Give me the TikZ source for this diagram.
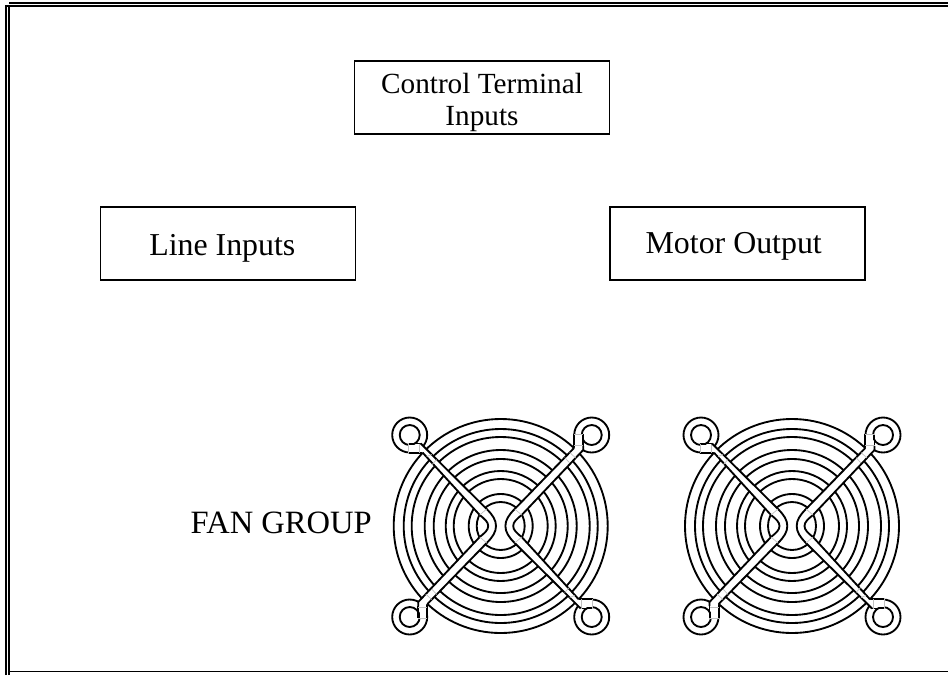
\documentclass[tikz,border=0pt]{standalone}
\usepackage{fontspec}
\setmainfont{Liberation Serif}
\usepackage{tikz}
\usetikzlibrary{positioning}
\newcommand{\dropby}[2]{\raisebox{-#1}[\height][\depth]{#2}}
\begin{document}
\begin{tikzpicture}[
    x=0.02646cm,
    y=-0.02646cm,
    termbox/.style={draw, line width=1.1pt, minimum width=6.75cm, minimum height=1.93cm, align=center},
    plainlabel/.style={font=\fontsize{24.5}{28}\selectfont},
    frameline/.style={line width=1.2pt},
    grille/.style={line width=1.4pt},
    fantick/.style={line width=0.5pt, gray!50},
    fangrille/.pic={
        % rings of the guard
        \foreach \r in {107,97,89,76,67,55,47,32,24}
            \draw[grille] (0,0) circle[radius=\r];
        % mounting lugs
        \foreach \a in {0,90,180,270} {
            \begin{scope}[rotate=\a]
                \draw[grille, fill=white] (-91,-91) circle[radius=17.5];
                \draw[grille] (-91,-91) circle[radius=10];
                \fill[white] (-92,-81) rectangle (-78,-74);
                \draw[grille] (-92,-82.5) -- (-80,-82.5);
                \draw[grille] (-92,-73.3) -- (-78,-73.3);
                \draw[fantick] (-92,-82.5) -- (-92,-73.3);
                \draw[fantick] (-81,-82.5) -- (-81,-73.3);
            \end{scope}
        }
        % arms
        \foreach \a in {0,180} {
            \begin{scope}[rotate=\a]
                \fill[white] (-80,-82.5) -- (-14,-17)
                    .. controls (-8,-11) and (-4.7,-6) .. (-4.7,0)
                    .. controls (-4.7,6) and (-8,11) .. (-14,17)
                    -- (-73.3,78) -- (-82.5,80) -- (-82.5,76) -- (-21,11)
                    .. controls (-16,7) and (-12.5,4) .. (-12.5,0)
                    .. controls (-12.5,-4) and (-16,-7) .. (-21,-11)
                    -- (-78,-73.3) -- cycle;
                \draw[grille] (-80,-82.5) -- (-14,-17)
                    .. controls (-8,-11) and (-4.7,-6) .. (-4.7,0)
                    .. controls (-4.7,6) and (-8,11) .. (-14,17)
                    -- (-73.3,78);
                \draw[grille] (-82.5,80) -- (-82.5,76) -- (-21,11)
                    .. controls (-16,7) and (-12.5,4) .. (-12.5,0)
                    .. controls (-12.5,-4) and (-16,-7) .. (-21,-11)
                    -- (-78,-73.3);
                \draw[fantick] (-14,-17) -- (-21,-11);
                \draw[fantick] (-14,17) -- (-21,11);
                \draw[fantick] (-69,-71.5) -- (-74,-69.5);
                \draw[fantick] (-64,-66.5) -- (-69,-61);
                \draw[fantick] (-69,73.5) -- (-75,68);
                \draw[fantick] (-64,68.5) -- (-69,63);
            \end{scope}
        }
    }
]
    \useasboundingbox (0,0) rectangle (948,675);

    % frame
    \draw[frameline] (6,675) -- (6,6) -- (9,6) (9,3) -- (948,3);
    \draw[frameline] (9,675) -- (9,6) -- (948,6);
    \draw[frameline] (9,671.5) -- (948,671.5);

    % terminal boxes
    \node[termbox, font=\fontsize{22}{23.25}\selectfont] (ctrl) at (482,97.5) {\dropby{3.75pt}{Control Terminal}\\[0.5pt]\dropby{3.75pt}{Inputs}};
    \node[termbox, font=\fontsize{24}{28}\selectfont] (line) at (228,243.5) {\hspace{-0.3cm}\dropby{3.75pt}{Line Inputs}};
    \node[termbox, font=\fontsize{24}{28}\selectfont] (motor) at (737.5,243.5) {\hspace{-0.2cm}\dropby{2.25pt}{Motor Output}};

    % fans
    \pic (fanleft) at (500.7,526) {fangrille};
    \pic (fanright) at (792,526) {fangrille};
    \node[plainlabel, anchor=east, inner sep=0pt] (fanlabel) at (372,523) {FAN GROUP};
\end{tikzpicture}
\end{document}
